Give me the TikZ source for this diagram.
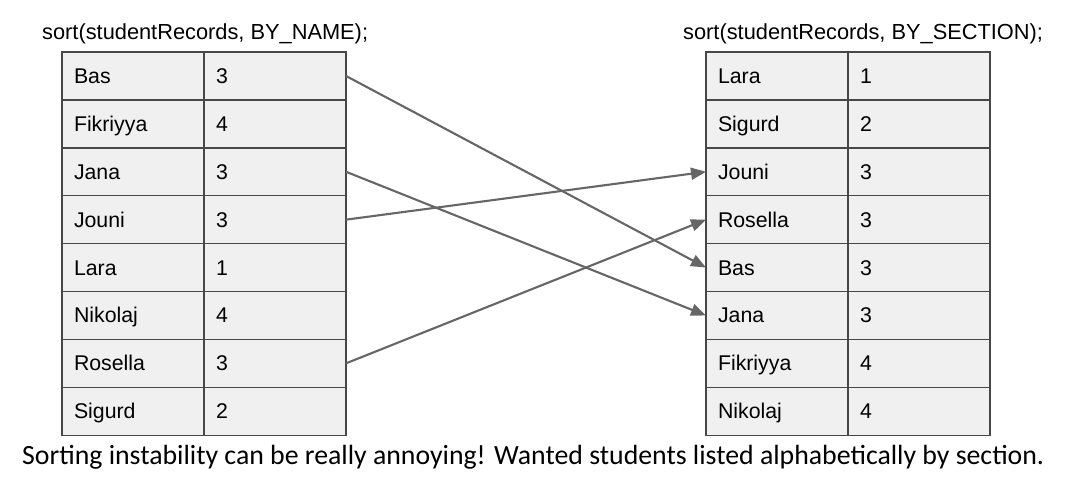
\documentclass[tikz,border=0pt]{standalone}
\usepackage{fontspec}
\setmainfont{Liberation Sans}
\newfontfamily\notefont{Carlito}
\usetikzlibrary{positioning, arrows.meta}

\begin{document}
\begin{tikzpicture}[x=1pt,y=-1pt,node distance=0pt,
                    cell/.style={draw=black!72,line width=1.4pt,fill=black!6,outer sep=0pt,
                      minimum height=47.9pt,inner xsep=12pt,text width=118pt,align=left,
                      text height=15pt,text depth=0pt,font=\fontsize{21.3}{25}\selectfont},
                    title/.style={anchor=base west,inner sep=0pt,font=\fontsize{21.8}{25}\selectfont},
                    link/.style={draw=black!60,line width=2.1pt,-{Triangle[length=15pt,width=12pt]}}]

  \useasboundingbox (0,0) rectangle (1065,482);

  % calls
  \node[title] (byname) at (42,39) {sort(studentRecords, BY\_NAME);};
  \node[title] (bysection) at (683,39) {sort(studentRecords, BY\_SECTION);};

  % sorted by name
  \node[cell,anchor=north west] (L1) at (62,52) {Bas};
  \node[cell] (L1s) [right=of L1] {3};
  \node[cell] (L2) [below=of L1] {Fikriyya};
  \node[cell] (L2s) [right=of L2] {4};
  \node[cell] (L3) [below=of L2] {Jana};
  \node[cell] (L3s) [right=of L3] {3};
  \node[cell] (L4) [below=of L3] {Jouni};
  \node[cell] (L4s) [right=of L4] {3};
  \node[cell] (L5) [below=of L4] {Lara};
  \node[cell] (L5s) [right=of L5] {1};
  \node[cell] (L6) [below=of L5] {Nikolaj};
  \node[cell] (L6s) [right=of L6] {4};
  \node[cell] (L7) [below=of L6] {Rosella};
  \node[cell] (L7s) [right=of L7] {3};
  \node[cell] (L8) [below=of L7] {Sigurd};
  \node[cell] (L8s) [right=of L8] {2};

  % sorted by section
  \node[cell,anchor=north west] (R1) at (706,52) {Lara};
  \node[cell] (R1s) [right=of R1] {1};
  \node[cell] (R2) [below=of R1] {Sigurd};
  \node[cell] (R2s) [right=of R2] {2};
  \node[cell] (R3) [below=of R2] {Jouni};
  \node[cell] (R3s) [right=of R3] {3};
  \node[cell] (R4) [below=of R3] {Rosella};
  \node[cell] (R4s) [right=of R4] {3};
  \node[cell] (R5) [below=of R4] {Bas};
  \node[cell] (R5s) [right=of R5] {3};
  \node[cell] (R6) [below=of R5] {Jana};
  \node[cell] (R6s) [right=of R6] {3};
  \node[cell] (R7) [below=of R6] {Fikriyya};
  \node[cell] (R7s) [right=of R7] {4};
  \node[cell] (R8) [below=of R7] {Nikolaj};
  \node[cell] (R8s) [right=of R8] {4};

  \draw[link] (L1s.east) -- (R5.west);
  \draw[link] (L3s.east) -- (R6.west);
  \draw[link] (L4s.east) -- (R3.west);
  \draw[link] (L7s.east) -- (R4.west);

  \node[anchor=base west,inner sep=0pt,font=\notefont\fontsize{27.8}{32}\selectfont] (note) at (22,464)
    {Sorting instability can be really annoying! Wanted students listed alphabetically by section.};

\end{tikzpicture}
\end{document}
